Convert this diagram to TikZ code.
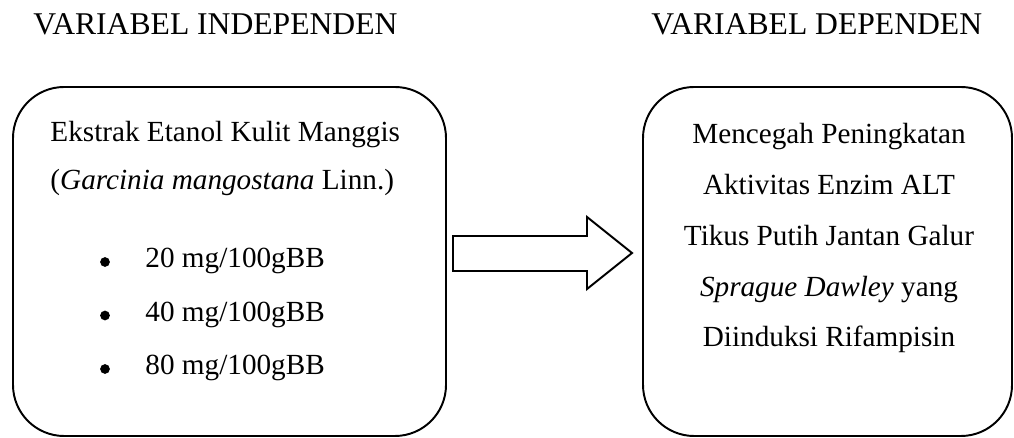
\documentclass[tikz,border=0pt]{standalone}
\usepackage{fontspec}
\setmainfont{Liberation Serif}
\usetikzlibrary{fit}
\tikzstyle{varbox}=[draw, line width=0.8pt, rounded corners=21pt, inner sep=0pt]
\tikzstyle{head}=[anchor=base west, inner sep=0pt, font=\fontsize{13}{15}\selectfont]
\tikzstyle{txt}=[inner sep=0pt, font=\fontsize{12}{14}\selectfont]
\tikzstyle{dot}=[shape=circle, minimum size=4pt, inner sep=0, fill=black]
\tikzstyle{bigarrow}=[line width=0.8pt, line join=miter]

\begin{document}
\begin{tikzpicture}[x=0.411pt, y=-0.411pt]
\useasboundingbox (0,0) rectangle (1014,438);
\node[head] (indep) at (33,35) {VARIABEL INDEPENDEN};
\node[head] (dep) at (651,35) {VARIABEL DEPENDEN};
\node[varbox, fit={(13,87) (446,436)}] (indepbox) {};
\node[varbox, fit={(643,87) (1012,436)}] (depbox) {};
% isi kotak kiri
\node[txt, anchor=base west] (ekstrak) at (50,142) {Ekstrak Etanol Kulit Manggis};
\node[txt, anchor=base west] (latin) at (50,190) {(\textit{Garcinia mangostana} Linn.)};
\foreach \d [count=\i] in {20,40,80}{
	\node[dot] (dot\i) at (105,{262+53.5*(\i-1)}) {};
	\node[txt, anchor=base west] (dosis\i) at (145,{268+53.5*(\i-1)}) {\d\ mg/100gBB};
}
% isi kotak kanan
\foreach \t [count=\i] in {Mencegah Peningkatan, Aktivitas Enzim ALT, Tikus Putih Jantan Galur, \textit{Sprague Dawley} yang, Diinduksi Rifampisin}{
	\node[txt, anchor=base] (efek\i) at (829,{144+50.75*(\i-1)}) {\t};
}
% panah
\draw[bigarrow] (453,236)--(587,236)--(587,217)--(632,253)--(587,289)--(587,271)--(453,271)--cycle;
\end{tikzpicture}
\end{document}
